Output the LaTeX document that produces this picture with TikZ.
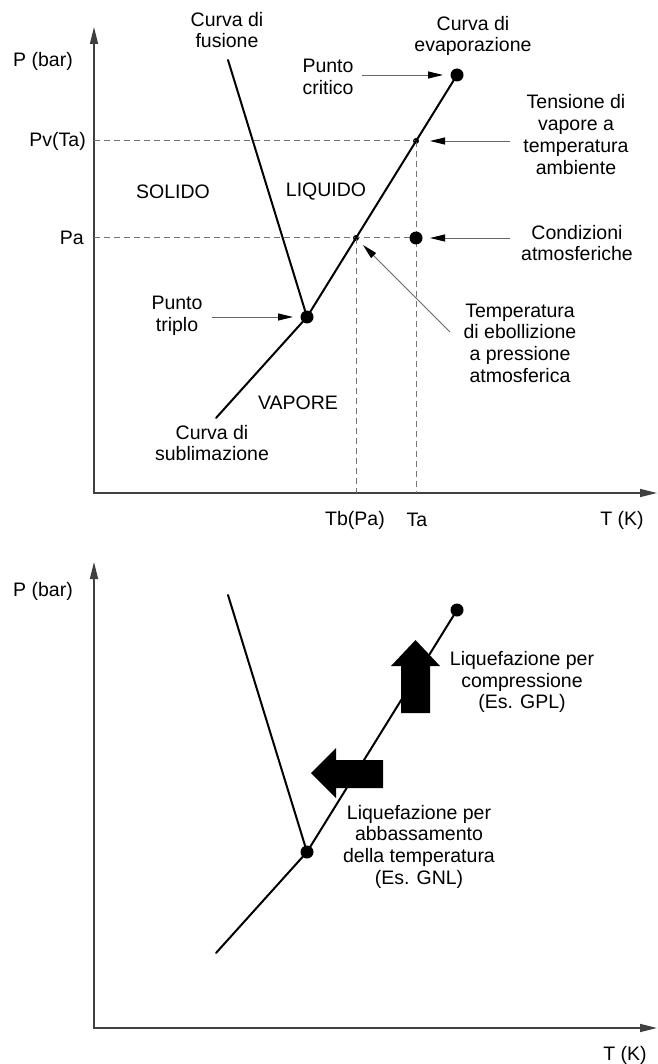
\documentclass[tikz,border=0pt]{standalone}
\usepackage{fontspec}
\setmainfont{Liberation Sans}
\usetikzlibrary{arrows.meta}
\begin{document}
\begin{tikzpicture}[x=1pt,y=-1pt,
  lbl/.style={inner sep=0pt, align=center, font=\fontsize{19.5}{21.7}\selectfont},
  axisline/.style={draw=black!75, line width=1.6pt, {Triangle[length=17pt,width=8pt]}-{Triangle[length=17pt,width=8pt]}},
  curve/.style={line width=2pt, line cap=round},
  guide/.style={draw=black!55, line width=1pt, dash pattern=on 6pt off 4pt},
  pointer/.style={draw=black!60, line width=0.9pt, -{Triangle[length=15pt,width=7pt,color=black]}},
  bigdot/.style={circle, fill=black, inner sep=0pt, minimum size=13pt},
  smalldot/.style={circle, fill=black, inner sep=0pt, minimum size=6pt},
  blockarrow/.style={fill=black}
]
\useasboundingbox (0,0) rectangle (657,1064);

% ---------------- top chart ----------------
\coordinate (Ytop1) at (94,27);
\coordinate (O1) at (94,493);
\coordinate (Xend1) at (657,493);
\draw[axisline] (Ytop1) -- (O1) -- (Xend1);

\coordinate (fus1) at (228,60);
\coordinate (sub1) at (216,418);
\node[bigdot] (crit1) at (457,75) {};
\node[bigdot] (trip1) at (307,317) {};
\node[smalldot] (pv1) at (416,141) {};
\node[smalldot] (tb1) at (356,238) {};

\draw[guide] (O1 |- pv1) -- (pv1.center);
\draw[guide] (O1 |- tb1) -- (416,238);
\draw[guide] (pv1.center) -- (pv1 |- O1);
\draw[guide] (tb1.center) -- (tb1 |- O1);
\node[bigdot] (atm1) at (416,238) {};

\draw[curve] (fus1) -- (trip1.center);
\draw[curve] (sub1) -- (trip1.center) -- (crit1.center);

\node[lbl] (pbar1) at (43,61) {P (bar)};
\node[lbl, anchor=east] (pvta) at (86,141) {Pv(Ta)};
\node[lbl, anchor=east] (pa) at (84,238) {Pa};
\node[lbl] (solido) at (173,192) {SOLIDO};
\node[lbl] (liquido) at (326,192) {LIQUIDO};
\node[lbl] (vapore) at (298,403) {VAPORE};
\node[lbl] (cfus) at (227,30) {Curva di\\fusione};
\node[lbl] (pcrit) at (328,77) {Punto\\critico};
\node[lbl] (cevap) at (473,36) {Curva di\\evaporazione};
\node[lbl] (tens) at (576,134.5) {Tensione di\\vapore a\\temperatura\\ambiente};
\node[lbl] (cond) at (577,243) {Condizioni\\atmosferiche};
\node[lbl] (tebol) at (520,343) {Temperatura\\di ebollizione\\a pressione\\atmosferica};
\node[lbl] (ptrip) at (177,315.5) {Punto\\triplo};
\node[lbl] (csub) at (212,443) {Curva di\\sublimazione};
\node[lbl] (tbpa) at (355,520) {Tb(Pa)};
\node[lbl] (ta) at (417,520) {Ta};
\node[lbl] (tk1) at (622,520) {T (K)};

\coordinate (pcA) at (362,75);   \coordinate (pcB) at (443,75);
\coordinate (tsA) at (510,141);  \coordinate (tsB) at (430,141);
\coordinate (cdA) at (510,238);  \coordinate (cdB) at (430,238);
\coordinate (ebA) at (450,332);  \coordinate (ebB) at (363,245);
\coordinate (trA) at (212,317);  \coordinate (trB) at (293,317);
\draw[pointer] (pcA) -- (pcB);
\draw[pointer] (tsA) -- (tsB);
\draw[pointer] (cdA) -- (cdB);
\draw[pointer] (ebA) -- (ebB);
\draw[pointer] (trA) -- (trB);

% ---------------- bottom chart ----------------
\begin{scope}[yshift=-535pt]
\coordinate (Ytop2) at (94,27);
\coordinate (O2) at (94,493);
\coordinate (Xend2) at (657,493);
\draw[axisline] (Ytop2) -- (O2) -- (Xend2);

\coordinate (fus2) at (228,60);
\coordinate (sub2) at (216,418);
\node[bigdot] (crit2) at (457,75) {};
\node[bigdot] (trip2) at (307,317) {};
\draw[curve] (fus2) -- (trip2.center);
\draw[curve] (sub2) -- (trip2.center) -- (crit2.center);

% compression arrow (up)
\fill[blockarrow] (401,178) -- (430,178) -- (430,131) -- (440,131) -- (415.5,105) -- (391,131) -- (401,131) -- cycle;
% temperature arrow (left)
\fill[blockarrow] (383,225) -- (383,253) -- (336,253) -- (336,263) -- (311,238) -- (336,213) -- (336,225) -- cycle;

\node[lbl] (pbar2) at (43,56) {P (bar)};
\node[lbl] (tk2) at (625,520) {T (K)};
\node[lbl] (lcomp) at (522,147) {Liquefazione per\\compressione\\(Es. GPL)};
\node[lbl] (ltemp) at (419,311.5) {Liquefazione per\\abbassamento\\della temperatura\\(Es. GNL)};
\end{scope}
\end{tikzpicture}
\end{document}
